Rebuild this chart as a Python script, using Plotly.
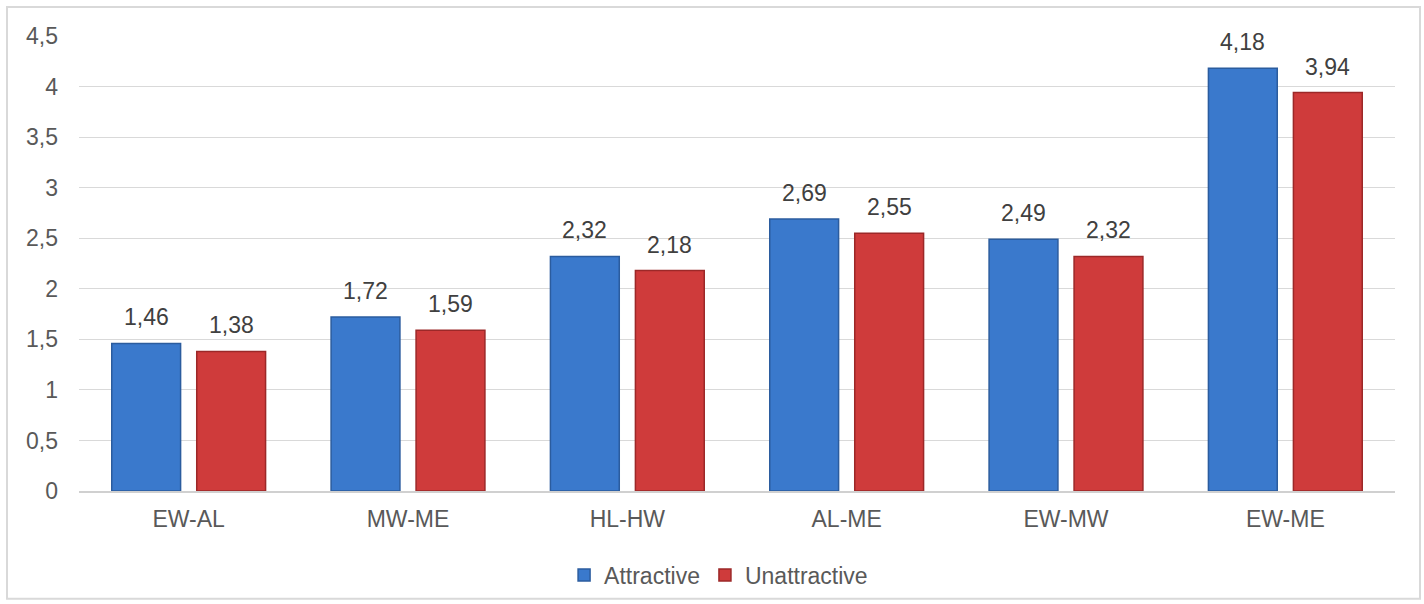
import plotly.graph_objects as go

categories = ["EW-AL", "MW-ME", "HL-HW", "AL-ME", "EW-MW", "EW-ME"]
attractive = [1.46, 1.72, 2.32, 2.69, 2.49, 4.18]
unattractive = [1.38, 1.59, 2.18, 2.55, 2.32, 3.94]
y_ticks = [0, 0.5, 1, 1.5, 2, 2.5, 3, 3.5, 4, 4.5]

FONT = "Liberation Sans, Arial"
fmt = lambda v: f"{v:.2f}".replace(".", ",")

fig = go.Figure()
fig.add_trace(go.Bar(
    name="Attractive", x=categories, y=attractive,
    marker=dict(color="#3a79cc", line=dict(color="#2b5c9e", width=1.5)),
))
fig.add_trace(go.Bar(
    name="Unattractive", x=categories, y=unattractive,
    marker=dict(color="#cf3b3b", line=dict(color="#9c2828", width=1.5)),
))

annotations = []
for series, shift in ((attractive, -42.5), (unattractive, 42.5)):
    for c, v in zip(categories, series):
        annotations.append(dict(
            x=c, y=v, xref="x", yref="y", text=fmt(v), showarrow=False,
            xshift=shift, yshift=11, yanchor="bottom",
            font=dict(family=FONT, size=23, color="#404040"),
        ))

fig.update_layout(
    width=1424, height=604,
    margin=dict(l=79, r=29, t=36, b=113),
    paper_bgcolor="white", plot_bgcolor="white",
    separators=", ",
    barmode="group", bargap=0.225, bargroupgap=0.19,
    font=dict(family=FONT, size=23, color="#595959"),
    showlegend=True,
    legend=dict(orientation="h", x=0.486, xanchor="center",
                yref="container", y=(604 - 575) / 604, yanchor="middle",
                font=dict(size=23, color="#595959"), itemwidth=30, traceorder="normal"),
    xaxis=dict(showline=True, linecolor="#d0d0d0", linewidth=2, ticks="",
               ticklabelstandoff=6, tickfont=dict(size=23, color="#595959")),
    yaxis=dict(range=[0, 4.5], tickvals=y_ticks, showgrid=True, gridcolor="#d9d9d9",
               gridwidth=1, zeroline=False, ticks="", ticklabelstandoff=20,
               tickfont=dict(size=23, color="#595959")),
    annotations=annotations,
    shapes=[dict(type="rect", xref="paper", yref="paper",
                 x0=-0.0547, x1=1.019, y0=-0.237, y1=1.0637,
                 line=dict(color="#d9d9d9", width=2), fillcolor="rgba(0,0,0,0)", layer="below")],
)

fig.write_html("out.html", config={"displayModeBar": False},
               post_script="document.body.style.margin='0px';")
